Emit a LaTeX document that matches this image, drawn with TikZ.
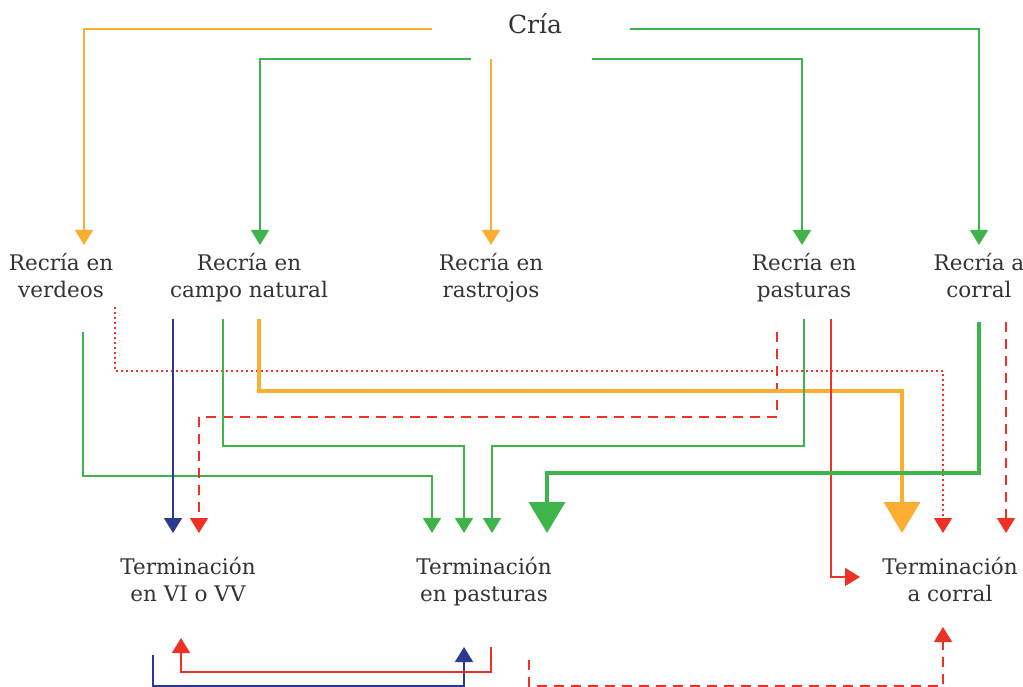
\documentclass[tikz,border=0pt]{standalone}
\usepackage{fontspec}
\setmainfont{DejaVu Serif}
\usetikzlibrary{arrows.meta}
\definecolor{og}{HTML}{FBAE2F}
\definecolor{gr}{HTML}{3DB54A}
\definecolor{rd}{HTML}{EE3124}
\definecolor{bl}{HTML}{2B3990}
\definecolor{txt}{HTML}{333333}
\tikzset{
  lbl/.style={font=\fontsize{21.5}{27}\selectfont, text=txt, align=center, inner sep=0pt},
  ln/.style={line width=1.5pt},
  fat/.style={line width=3.8pt},
  tipS/.style={-{Triangle[width=18pt,length=15pt]}},
  tipB/.style={-{Triangle[width=36pt,length=31pt]}},
  dsh/.style={dash pattern=on 10pt off 7pt},
  dot/.style={dash pattern=on 2pt off 3pt},
}
\begin{document}
\begin{tikzpicture}[x=1pt,y=-1pt]
\useasboundingbox (0,0) rectangle (1023,687);
% nodes
\node[lbl, font=\fontsize{25}{28}\selectfont] (cria) at (535,24) {Cría};
\node[lbl] (rv) at (61,279) {\strut Recría en\\verdeos\strut};
\node[lbl] (rc) at (249,279) {\strut Recría en\\campo natural\strut};
\node[lbl] (rr) at (491,279) {\strut Recría en\\rastrojos\strut};
\node[lbl] (rp) at (804,279) {\strut Recría en\\pasturas\strut};
\node[lbl] (rk) at (979,279) {\strut Recría a\\corral\strut};
\node[lbl] (tv) at (188,583) {\strut Terminación\\en VI o VV\strut};
\node[lbl] (tp) at (484,583) {\strut Terminación\\en pasturas\strut};
\node[lbl] (tk) at (950,583) {\strut Terminación\\a corral\strut};
% coordinates
\coordinate (c1) at (432,29);  \coordinate (rvIn) at (84,245);
\coordinate (c2) at (471,59);  \coordinate (rcIn) at (260,245);
\coordinate (c3) at (491,59);  \coordinate (rrIn) at (491,245);
\coordinate (c4) at (592,59);  \coordinate (rpIn) at (802,245);
\coordinate (c5) at (630,29);  \coordinate (rkIn) at (979,245);
\coordinate (rvO1) at (83,332);  \coordinate (rvO2) at (115,307);
\coordinate (rcO1) at (173,319); \coordinate (rcO2) at (223,319); \coordinate (rcO3) at (259,319);
\coordinate (rpO1) at (777,332); \coordinate (rpO2) at (804,319); \coordinate (rpO3) at (831,319);
\coordinate (rkO1) at (979,322); \coordinate (rkO2) at (1006,322);
\coordinate (tvIn1) at (173,533); \coordinate (tvIn2) at (199,533);
\coordinate (tpIn1) at (432,533); \coordinate (tpIn2) at (464,533); \coordinate (tpIn3) at (492,533); \coordinate (tpIn4) at (547,533);
\coordinate (tkIn1) at (902,533); \coordinate (tkIn2) at (943,533); \coordinate (tkIn3) at (1006,533); \coordinate (tkIn4) at (860,577);
\coordinate (tvO) at (153,655); \coordinate (tvB) at (181,638);
\coordinate (tpO) at (491,647); \coordinate (tpB) at (464,647);
\coordinate (tpO2) at (529,660); \coordinate (tkB) at (943,627);
% top
\draw[og, ln, tipS] (c1) -| (rvIn);
\draw[gr, ln, tipS] (c2) -| (rcIn);
\draw[og, ln, tipS] (c3) -- (rrIn);
\draw[gr, ln, tipS] (c4) -| (rpIn);
\draw[gr, ln, tipS] (c5) -| (rkIn);
% middle
\draw[gr, ln, tipS] (rvO1) -- ++(0,144) -| (tpIn1);
\draw[rd, ln, dot, tipS] (rvO2) -- ++(0,64) -| (tkIn2);
\draw[bl, ln, tipS] (rcO1) -- (tvIn1);
\draw[rd, ln, dsh, tipS] (rpO1) -- ++(0,85) -| (tvIn2);
\draw[gr, ln, tipS] (rcO2) -- ++(0,127) -| (tpIn2);
\draw[og, fat, tipB] (rcO3) -- ++(0,72) -| (tkIn1);
\draw[gr, ln, tipS] (rpO2) -- ++(0,127) -| (tpIn3);
\draw[rd, ln, tipS] (rpO3) |- (tkIn4);
\draw[gr, fat, tipB] (rkO1) -- ++(0,151) -| (tpIn4);
\draw[rd, ln, dsh, tipS] (rkO2) -- (tkIn3);
% bottom
\draw[bl, ln, tipS] (tvO) -- ++(0,31) -| (tpB);
\draw[rd, ln, tipS] (tpO) -- ++(0,25) -| (tvB);
\draw[rd, ln, dsh, tipS] (tpO2) -- ++(0,26) -| (tkB);
\end{tikzpicture}
\end{document}
